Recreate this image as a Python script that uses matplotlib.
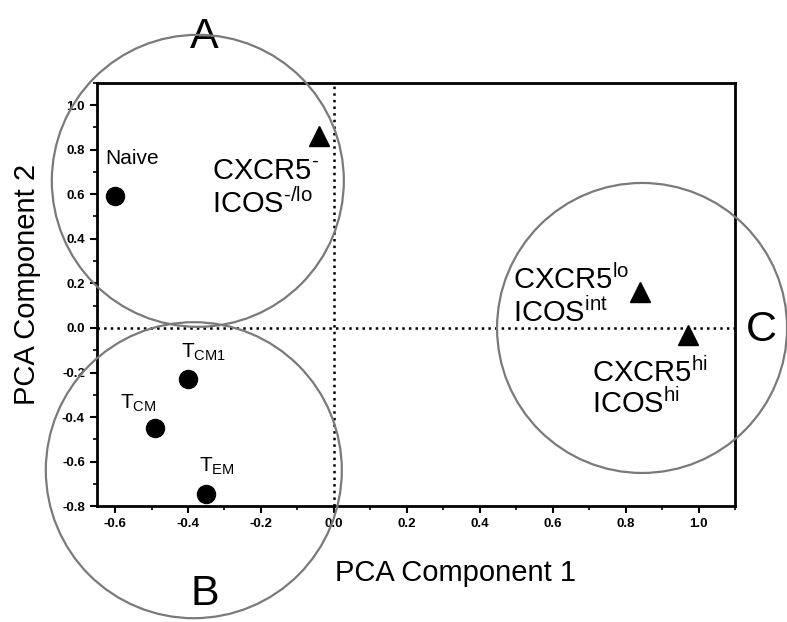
import numpy as np
import matplotlib
matplotlib.use("Agg")
import matplotlib.pyplot as plt
from matplotlib.patches import Circle
from matplotlib.transforms import ScaledTranslation

plt.rcParams['font.family'] = ['Liberation Sans', 'DejaVu Sans']
plt.rcParams['mathtext.fontset'] = 'custom'
plt.rcParams['mathtext.rm'] = 'Liberation Sans'
plt.rcParams['mathtext.default'] = 'regular'

# PCA scores
circle_x = [-0.60, -0.40, -0.49, -0.35]
circle_y = [0.59, -0.23, -0.45, -0.745]
triangle_x = [-0.04, 0.84, 0.97]
triangle_y = [0.86, 0.16, -0.03]

# labels: (x, y, text, offset in pixels, font size)
labels = [
    (-0.60, 0.59, 'Naive', (-10, 32), 15),
    (-0.40, -0.23, r'T$_{CM1}$', (-7, 22), 15),
    (-0.49, -0.45, r'T$_{CM}$', (-35, 20), 15),
    (-0.35, -0.745, r'T$_{EM}$', (-7, 22), 15),
    (-0.04, 0.86, r'CXCR5$^{\text{-}}$', (-107, -43), 21),
    (-0.04, 0.86, r'ICOS$^{\text{-/lo}}$', (-107, -77), 21),
    (0.84, 0.16, r'CXCR5$^{lo}$', (-127, 3), 21),
    (0.84, 0.16, r'ICOS$^{int}$', (-127, -30), 21),
    (0.97, -0.03, r'CXCR5$^{hi}$', (-96, -47), 21),
    (0.97, -0.03, r'ICOS$^{hi}$', (-96, -78), 21),
]

# cluster circles: name, centre (data), radius (inches)
groups = ['A', 'B', 'C']
group_cx = [-0.373, -0.384, 0.845]
group_cy = [0.66, -0.638, 0.0]
group_r = [1.46, 1.48, 1.45]


def fmt(v, pos):
    return '%.1f' % (0.0 if abs(v) < 1e-9 else v)


fig = plt.figure(figsize=(7.87, 6.22), dpi=100)
ax = fig.add_axes([0.123, 0.186, 0.811, 0.681])

ax.axhline(0, color='black', linestyle=':', linewidth=1.8, zorder=1)
ax.axvline(0, color='black', linestyle=':', linewidth=1.8, zorder=1)

ax.plot(circle_x, circle_y, 'o', color='black', markersize=13, zorder=3)
ax.plot(triangle_x, triangle_y, '^', color='black', markersize=15, zorder=3)

for x, y, t, off, size in labels:
    ax.annotate(t, (x, y), xytext=off, textcoords='offset pixels',
                ha='left', va='baseline', fontsize=size)

ax.set_xlim(-0.65, 1.1)
ax.set_ylim(-0.8, 1.1)
ax.set_xticks(np.arange(-0.6, 1.01, 0.2))
ax.set_yticks(np.arange(-0.8, 1.01, 0.2))
ax.set_xticks(np.arange(-0.6, 1.11, 0.1), minor=True)
ax.set_yticks(np.arange(-0.8, 1.11, 0.1), minor=True)
ax.xaxis.set_major_formatter(matplotlib.ticker.FuncFormatter(fmt))
ax.yaxis.set_major_formatter(matplotlib.ticker.FuncFormatter(fmt))
ax.tick_params(which='major', direction='out', length=5, width=1.5, labelsize=9.5)
ax.tick_params(which='minor', direction='out', length=3, width=1.2)
for lab in ax.get_xticklabels() + ax.get_yticklabels():
    lab.set_fontweight('bold')
for s in ax.spines.values():
    s.set_linewidth(2)

for name, cx, cy, r in zip(groups, group_cx, group_cy, group_r):
    tr = fig.dpi_scale_trans + ScaledTranslation(cx, cy, ax.transData)
    c = Circle((0, 0), r, transform=tr, fill=False, edgecolor='#7a7a7a',
               linewidth=1.6, clip_on=False, zorder=5)
    fig.add_artist(c)

fig.text(0.260, 0.940, 'A', fontsize=31, ha='center', va='center')
fig.text(0.260, 0.045, 'B', fontsize=31, ha='center', va='center')
fig.text(0.968, 0.469, 'C', fontsize=31, ha='center', va='center')

fig.text(0.579, 0.079, 'PCA Component 1', fontsize=21, ha='center', va='center')
fig.text(0.034, 0.542, 'PCA Component 2', fontsize=21, ha='center', va='center',
         rotation=90)

fig.savefig('out.png', dpi=100)
